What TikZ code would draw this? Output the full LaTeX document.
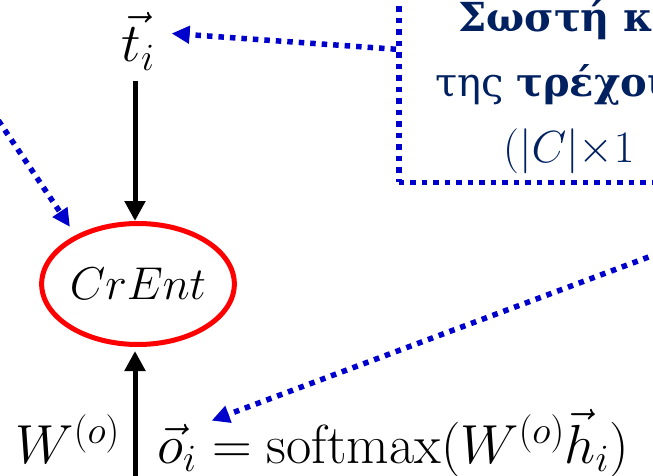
\RequirePackage{fix-cm}
\documentclass[tikz,border=0pt]{standalone}
\usepackage{fontspec}
\newfontfamily\greekfont{DejaVu Serif}
\usetikzlibrary{arrows.meta,shapes.geometric}
\definecolor{HintBlue}{HTML}{0000CC}
\definecolor{NoteNavy}{HTML}{002060}
\definecolor{LossRed}{HTML}{FF0000}

\begin{document}
\begin{tikzpicture}[
    x=1pt,y=-1pt,
    flow/.style={-{Triangle[length=20pt,width=20pt]},line width=5pt},
    hint/.style={-{Triangle[length=18pt,width=17pt]},line width=5.5pt,
      draw=HintBlue,dash pattern=on 5.5pt off 6pt},
    loss/.style={ellipse,draw=LossRed,line width=5pt,minimum width=151pt,
      minimum height=121pt,inner sep=0pt,font=\fontsize{46}{54}\selectfont},
    big/.style={font=\fontsize{55}{64}\selectfont,inner sep=0pt},
    note/.style={font=\fontsize{40}{48}\selectfont\greekfont,text=NoteNavy,
      anchor=base west,inner sep=0pt}
  ]
  \path[use as bounding box] (0,0) rectangle (653,476);
  \clip (0,0) rectangle (653,476);

  % loss node and its inputs
  \node[big,anchor=base,inner xsep=17pt,inner ysep=11pt] (ti) at (138,62) {$\vec{t}_i$};
  \node[loss] (crent) at (138,284) {$CrEnt$};
  \node[big,anchor=base east] (wout) at (120,463) {$W^{(o)}$};
  \node[big,anchor=base west] (oi) at (157,463) {$\vec{o}_i$};
  \node[big,anchor=base west] (softmax) at (oi.base east)
    {${}=\mathrm{softmax}(W^{(o)}\vec{h}_i)$};

  % note box, cut by the page edge
  \node[draw=HintBlue,line width=5.5pt,dash pattern=on 5.5pt off 6pt,
    anchor=south west,minimum width=420pt,minimum height=266pt] (box) at (396,185) {};
  \node[note,font=\fontsize{40}{48}\selectfont\greekfont\bfseries] (line1) at (458,32) {Σωστή κ};
  \node[note] (line2) at (435,97) {της \textbf{τρέχου}};
  \node[note,font=\fontsize{45}{52}\selectfont] (line3) at (503,162) {$(|C|{\times}1$};

  % connectors
  \coordinate (bot) at (135,490);
  \coordinate (lin) at (-8,111);
  \coordinate (rin) at (670,249);
  \draw[flow] (ti.south -| bot) -- (bot |- crent.north);
  \draw[flow,shorten >=4pt] (bot) -- (bot |- crent.south);
  \draw[hint] (box.west) -- ([yshift=8pt]ti.east);
  \draw[hint,shorten >=10pt] (lin) -- (crent.142);
  \draw[hint] (rin) -- ([xshift=15pt,yshift=3pt]oi.north east);
\end{tikzpicture}
\end{document}
